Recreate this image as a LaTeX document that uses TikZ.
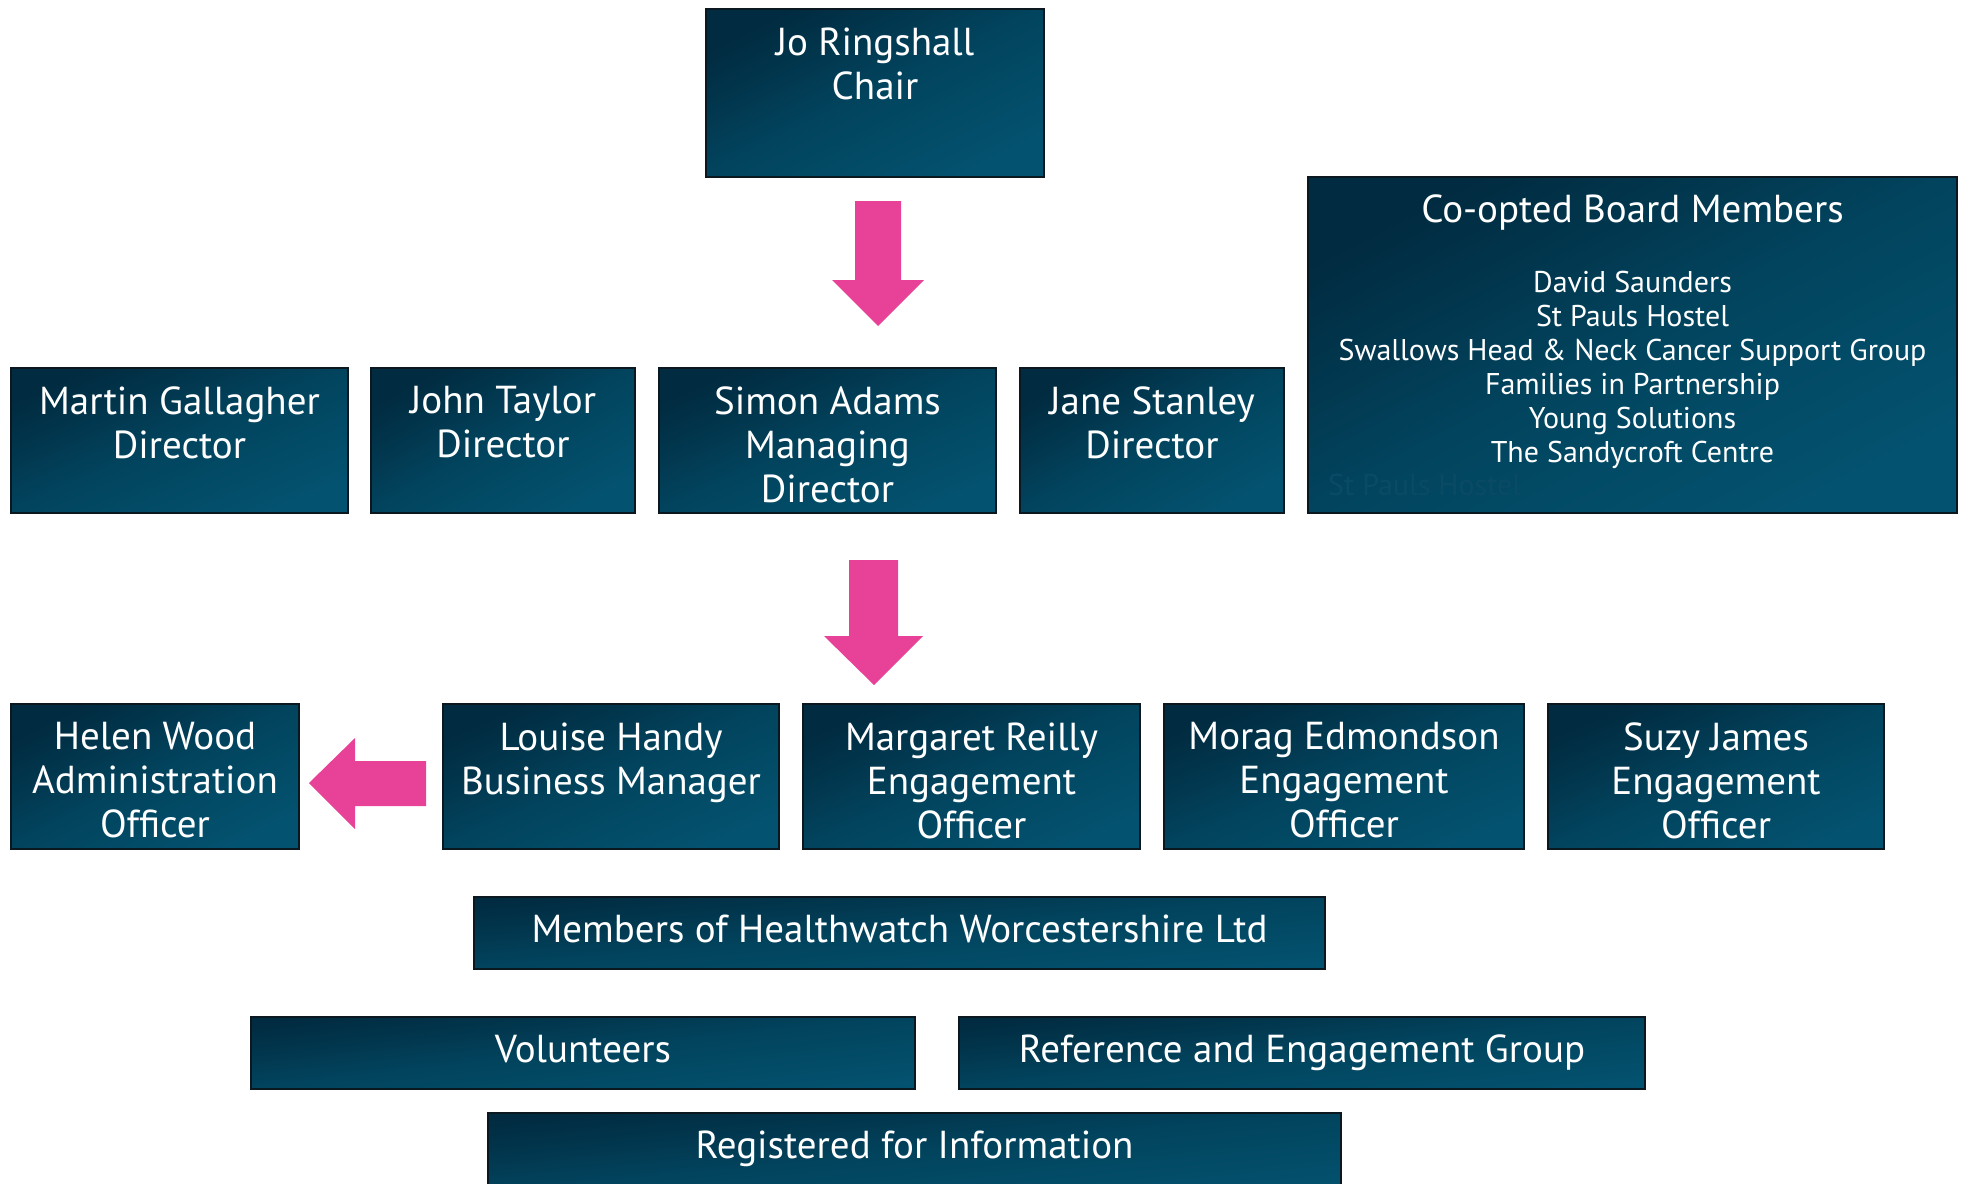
\documentclass[tikz,border=0pt]{standalone}
\usepackage{fontspec}
\setmainfont{PT Sans}
\definecolor{boxdark}{RGB}{1,43,64}
\definecolor{boxmid}{RGB}{2,68,94}
\definecolor{boxlight}{RGB}{3,82,111}
\definecolor{boxline}{RGB}{12,24,32}
\definecolor{arrowpink}{RGB}{232,66,152}
\definecolor{ghost}{RGB}{10,74,100}
\tikzset{
  % the shading angle is atan(height/width), so the gradient runs corner to corner
  orgbox/.style={draw=boxline, line width=1.5pt, inner sep=0pt, outer sep=0pt,
    top color=boxdark, bottom color=boxlight, middle color=boxmid, shading angle=#1},
  orgbox/.default=45,
  boxlabel/.style={text=white, align=center, inner sep=0pt, anchor=north,
    font=\fontsize{39}{44}\selectfont, execute at begin node=\strut},
  smalllabel/.style={text=white, align=center, inner sep=0pt, anchor=north,
    font=\fontsize{30}{34}\selectfont, execute at begin node=\strut},
  blockarrow/.style={fill=arrowpink, draw=none}
}
\begin{document}
\begin{tikzpicture}[x=1pt, y=-1pt]
\clip (0,0) rectangle (1964,1183);
\fill[white] (0,0) rectangle (1964,1183);

% board
\node[orgbox=26.4, minimum width=338pt, minimum height=168pt] (chair) at (875,93) {};
\node[orgbox=27.4, minimum width=649pt, minimum height=336pt] (coop) at (1632.5,345) {};
\node[orgbox=23.3, minimum width=337pt, minimum height=145pt] (martin) at (179.5,440.5) {};
\node[orgbox=28.8, minimum width=264pt, minimum height=145pt] (john) at (503,440.5) {};
\node[orgbox=23.3, minimum width=337pt, minimum height=145pt] (simon) at (827.5,440.5) {};
\node[orgbox=28.8, minimum width=264pt, minimum height=145pt] (jane) at (1152,440.5) {};

% staff
\node[orgbox=26.7, minimum width=288pt, minimum height=145pt] (helen) at (155,776.5) {};
\node[orgbox=23.3, minimum width=336pt, minimum height=145pt] (louise) at (611,776.5) {};
\node[orgbox=23.3, minimum width=337pt, minimum height=145pt] (margaret) at (971.5,776.5) {};
\node[orgbox=21.9, minimum width=360pt, minimum height=145pt] (morag) at (1344,776.5) {};
\node[orgbox=23.3, minimum width=336pt, minimum height=145pt] (suzy) at (1716,776.5) {};

% wider membership
\node[orgbox=4.8, minimum width=851pt, minimum height=72pt] (members) at (899.5,933) {};
\node[orgbox=6.2, minimum width=664pt, minimum height=72pt] (volunteers) at (583,1053) {};
\node[orgbox=6.0, minimum width=686pt, minimum height=72pt] (reference) at (1302,1053) {};
\node[orgbox=5.5, minimum width=853pt, minimum height=82pt] (registered) at (914.5,1154) {};

% labels
\node[boxlabel] (chair-t) at ([yshift=-18.2pt]chair.north) {Jo Ringshall\\Chair};
\node[boxlabel] (coop-t) at ([yshift=-14.2pt]coop.north) {Co-opted Board Members};
\node[smalllabel] (coop-list) at ([yshift=-94.2pt]coop.north)
  {David Saunders\\St Pauls Hostel\\Swallows Head \& Neck Cancer Support Group\\Families in Partnership\\Young Solutions\\The Sandycroft Centre};
\node[anchor=base west, inner sep=0pt, text=ghost, font=\fontsize{30}{34}\selectfont] (coop-ghost) at (1328,495) {St Pauls Hostel};
\node[boxlabel] (martin-t) at ([yshift=-18.2pt]martin.north) {Martin Gallagher\\Director};
\node[boxlabel] (john-t) at ([yshift=-18.2pt]john.north) {John Taylor\\Director};
\node[boxlabel] (simon-t) at ([yshift=-18.2pt]simon.north) {Simon Adams\\Managing\\Director};
\node[boxlabel] (jane-t) at ([yshift=-18.2pt]jane.north) {Jane Stanley\\Director};
\node[boxlabel] (helen-t) at ([yshift=-18.2pt]helen.north) {Helen Wood\\Administration\\Officer};
\node[boxlabel] (louise-t) at ([yshift=-18.2pt]louise.north) {Louise Handy\\Business Manager};
\node[boxlabel] (margaret-t) at ([yshift=-18.2pt]margaret.north) {Margaret Reilly\\Engagement\\Officer};
\node[boxlabel] (morag-t) at ([yshift=-18.2pt]morag.north) {Morag Edmondson\\Engagement\\Officer};
\node[boxlabel] (suzy-t) at ([yshift=-18.2pt]suzy.north) {Suzy James\\Engagement\\Officer};
\node[boxlabel] (members-t) at ([yshift=-14.2pt]members.north) {Members of Healthwatch Worcestershire Ltd};
\node[boxlabel] (volunteers-t) at ([yshift=-14.2pt]volunteers.north) {Volunteers};
\node[boxlabel] (reference-t) at ([yshift=-14.2pt]reference.north) {Reference and Engagement Group};
\node[boxlabel] (registered-t) at ([yshift=-14.2pt]registered.north) {Registered for Information};

% block arrows
\fill[blockarrow] (855,201) -- (901,201) -- (901,280) -- (924,280) -- (878,326)
  -- (832,280) -- (855,280) -- cycle;
\fill[blockarrow] (849,560) -- (898,560) -- (898,636) -- (923,636) -- (874,685)
  -- (824,636) -- (849,636) -- cycle;
\fill[blockarrow] (426,761) -- (355,761) -- (355,738) -- (309,783) -- (355,829)
  -- (355,806) -- (426,806) -- cycle;
\end{tikzpicture}
\end{document}
